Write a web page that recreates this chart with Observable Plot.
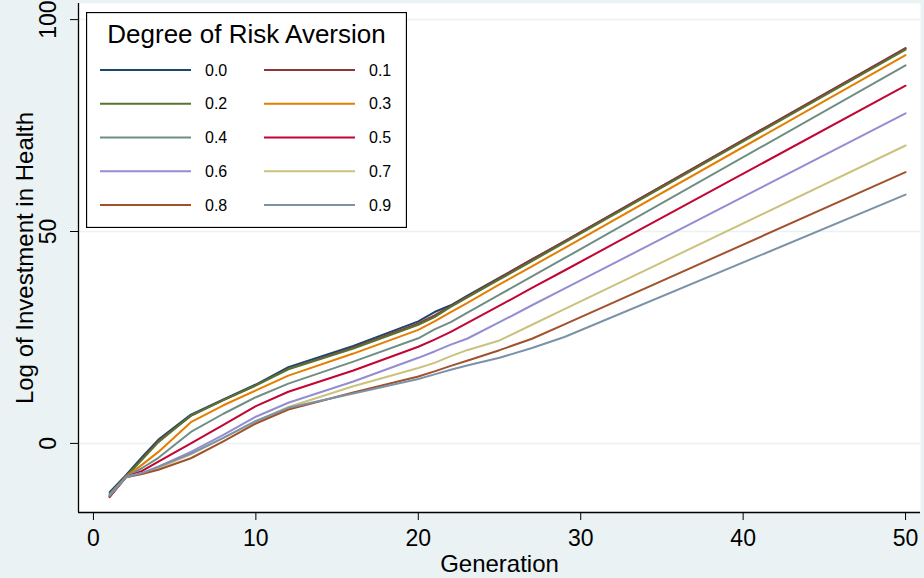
<!DOCTYPE html>
<html><head><meta charset="utf-8">
<script src="https://cdn.jsdelivr.net/npm/d3@7"></script>
<script src="https://cdn.jsdelivr.net/npm/@observablehq/plot@0.6"></script>
<style>
body{margin:0;background:#eaf2f3;font-family:"Liberation Sans",Arial,Helvetica,sans-serif;}
#wrap{position:relative;width:924px;height:578px;overflow:hidden;}
#legend{position:absolute;left:86px;top:12px;}
</style></head><body><div id="wrap"></div>
<script>
const generations = [1, 2, 3, 4, 6, 8, 10, 12, 16, 20, 21, 22, 23, 25, 27, 29, 50];
const riskLevels = ["0.0", "0.1", "0.2", "0.3", "0.4", "0.5", "0.6", "0.7", "0.8", "0.9"];
const seriesColors = ["#1a476f", "#90353b", "#55752f", "#e37e00", "#6e8e84", "#c10534", "#938dd2", "#cac27e", "#a0522d", "#7b92a8"];
// Log of investment in health, one array per degree of risk aversion
const risk00 = [-11.5, -7.5, -3.2, 0.9, 6.8, 10.4, 13.9, 18.0, 23.0, 28.8, 31.0, 32.6, 34.8, 39.1, 43.4, 47.7, 93.2];
const risk01 = [-12.7, -7.9, -3.6, 0.6, 6.5, 10.2, 13.7, 17.6, 22.6, 28.3, 30.2, 32.4, 34.6, 39.0, 43.4, 47.7, 93.3];
const risk02 = [-12.2, -7.8, -3.8, 0.3, 6.6, 10.2, 13.7, 17.5, 22.4, 28.0, 29.8, 32.2, 34.4, 38.7, 43.0, 47.4, 92.9];
const risk03 = [-12.0, -7.8, -5.0, -2.0, 5.0, 9.0, 12.5, 16.0, 21.2, 26.8, 28.8, 31.0, 33.1, 37.5, 41.8, 46.1, 91.6];
const risk04 = [-12.0, -7.9, -5.8, -3.4, 2.7, 7.0, 10.9, 14.1, 19.3, 24.8, 26.9, 28.6, 30.8, 35.1, 39.4, 43.7, 89.2];
const risk05 = [-12.5, -8.0, -6.5, -4.3, 0.0, 4.4, 8.8, 12.2, 17.2, 22.8, 24.5, 26.3, 28.4, 32.5, 36.7, 40.8, 84.4];
const risk06 = [-12.3, -8.0, -7.0, -5.5, -2.0, 2.0, 6.3, 9.6, 14.6, 20.2, 21.7, 23.3, 24.7, 28.6, 32.6, 36.5, 77.9];
const risk07 = [-12.3, -8.0, -7.0, -5.8, -2.6, 1.3, 5.2, 8.6, 13.5, 17.8, 19.0, 20.6, 22.0, 24.3, 28.0, 31.7, 70.3];
const risk08 = [-12.5, -8.0, -7.2, -6.2, -3.5, 0.5, 4.7, 8.0, 12.0, 15.8, 17.0, 18.3, 19.5, 22.0, 24.7, 28.1, 64.0];
const risk09 = [-12.3, -8.0, -7.0, -5.5, -2.4, 1.3, 5.3, 8.4, 11.8, 15.2, 16.3, 17.4, 18.4, 20.2, 22.5, 25.1, 58.7];
const xTicks = [0, 10, 20, 30, 40, 50];
const yTicks = [0, 50, 100];
const xDomain = [-0.92, 50.92];
const yDomain = [-16.3, 103.8];

const allSeries = [risk00, risk01, risk02, risk03, risk04, risk05, risk06, risk07, risk08, risk09];
const data = allSeries.flatMap((vals, i) => vals.map((v, j) => ({gen: generations[j], value: v, risk: riskLevels[i]})));

const font = '"Liberation Sans", Arial, Helvetica, sans-serif';
const chart = Plot.plot({
  width: 924, height: 578,
  marginLeft: 78, marginRight: 4, marginTop: 3, marginBottom: 66,
  style: {background: "transparent", fontFamily: font, fontSize: "23px", color: "#000", overflow: "visible"},
  x: {domain: xDomain},
  y: {domain: yDomain},
  color: {domain: riskLevels, range: seriesColors},
  marks: [
    Plot.frame({fill: "white", stroke: null}),
    Plot.gridY(yTicks, {stroke: "#eaf2f3", strokeOpacity: 1, strokeWidth: 1.5}),
    Plot.line(data, {x: "gen", y: "value", z: "risk", stroke: "risk", strokeWidth: 2}),
    Plot.ruleY([yDomain[0]], {stroke: "#000", strokeWidth: 1.3}),
    Plot.ruleX([xDomain[0]], {stroke: "#000", strokeWidth: 1.3}),
    Plot.axisX(xTicks, {tickSize: 8, tickPadding: 9, fontSize: 23, label: null, stroke: "#000"}),
    Plot.axisY(yTicks, {tickSize: 8, tickRotate: -90, tickPadding: 15, fontSize: 23, label: null, stroke: "#000"}),
    Plot.text(["Generation"], {frameAnchor: "bottom", dy: 59, fontSize: 24, fill: "#000"}),
    Plot.text(["Log of Investment in Health"], {frameAnchor: "left", textAnchor: "middle", rotate: -90, dx: -53, fontSize: 24, fill: "#000"})
  ]
});
const wrap = document.getElementById("wrap");
wrap.appendChild(chart);

// Legend overlay (inside the plot area, top-left)
const lw = 321, lh = 216;
const leg = d3.create("svg").attr("id", "legend").attr("width", lw).attr("height", lh)
  .style("font-family", font);
leg.append("rect").attr("x", 0.5).attr("y", 0.5).attr("width", lw - 1).attr("height", lh - 1)
  .attr("fill", "#fff").attr("stroke", "#000").attr("stroke-width", 1.3);
leg.append("text").attr("x", lw / 2).attr("y", 31).attr("text-anchor", "middle")
  .attr("font-size", 26).text("Degree of Risk Aversion");
riskLevels.forEach((lab, i) => {
  const col = i % 2, row = Math.floor(i / 2);
  const y = 58 + row * 33.75;
  const x0 = col === 0 ? 14 : 178;
  leg.append("line").attr("x1", x0).attr("x2", x0 + 91).attr("y1", y).attr("y2", y)
    .attr("stroke", seriesColors[i]).attr("stroke-width", 2);
  leg.append("text").attr("x", x0 + 105).attr("y", y + 5.5).attr("font-size", 16).text(lab);
});
wrap.appendChild(leg.node());
</script></body></html>
